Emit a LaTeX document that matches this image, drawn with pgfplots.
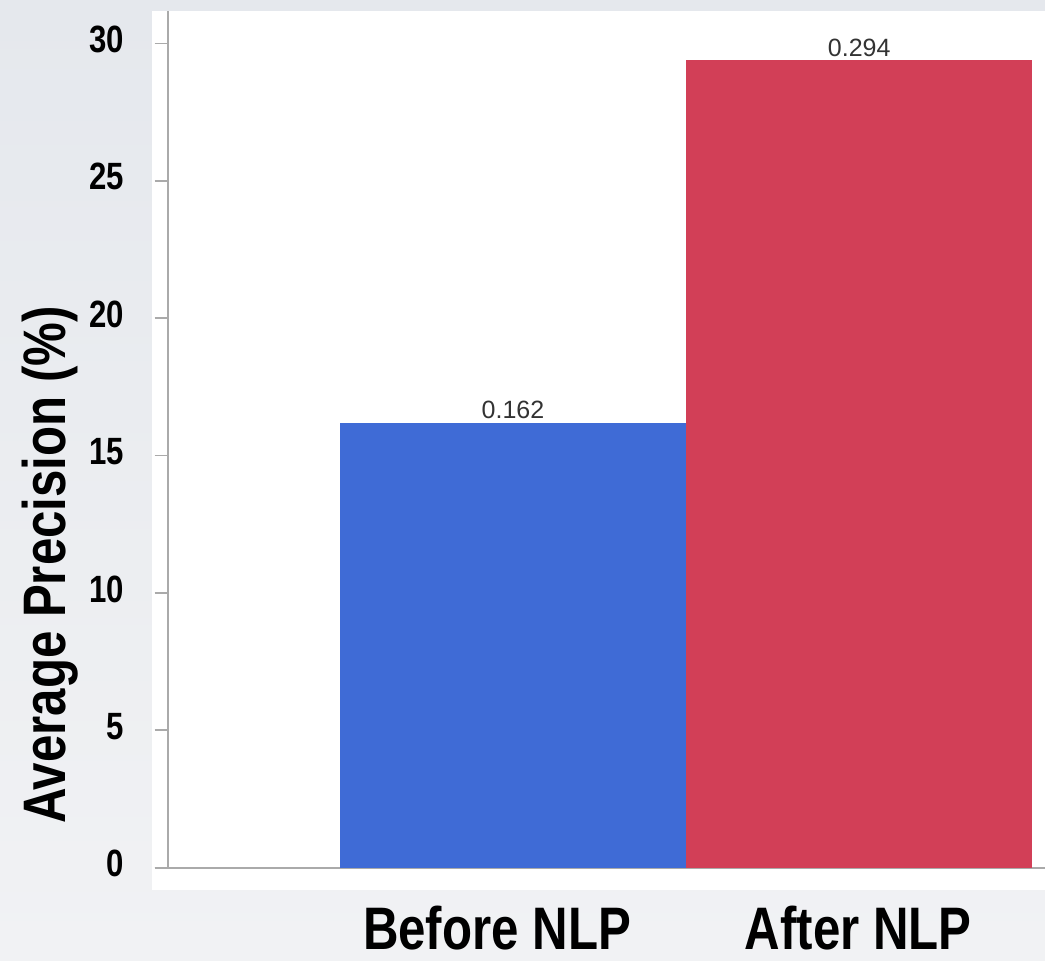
\documentclass[border=0pt]{standalone}
\usepackage{fontspec}
\setmainfont{Liberation Sans}
\newfontfamily\condb[FakeStretch=0.82]{Liberation Sans}
\usepackage{pgfplots}
\pgfplotsset{compat=1.18}
\definecolor{barblue}{RGB}{63,107,214}
\definecolor{barred}{RGB}{210,63,87}
\definecolor{axgray}{RGB}{170,170,170}
\definecolor{bgtop}{RGB}{229,232,237}
\definecolor{bgbot}{RGB}{241,242,244}
\begin{document}
\begin{tikzpicture}
\useasboundingbox (0,0) rectangle (522.5pt,480pt);
\shade[top color=bgtop, bottom color=bgbot] (0,0) rectangle (522.5pt,480pt);
\fill[white] (76pt,35pt) rectangle (522.5pt,474.5pt);
\begin{axis}[
  at={(83.85pt,46.15pt)}, anchor=south west,
  scale only axis, width=438.65pt, height=428.35pt,
  xmin=-0.9974, xmax=1.5367, ymin=0, ymax=31.18,
  axis lines*=left,
  axis line style={axgray, line width=0.9pt},
  x axis line style={shorten <=-6.5pt},
  ytick={0,5,...,30},
  xtick={-0.046,0.997},
  xticklabels={Before NLP,{\rule{0pt}{18.5pt}After NLP}},
  xtick style={draw=none},
  ytick style={axgray, line width=0.9pt},
  tick align=outside,
  major tick length=6.5pt,
  /pgf/number format/assume math mode=true,
  yticklabel style={font=\condb\bfseries\fontsize{19}{20}\selectfont, text=black, anchor=east, inner sep=0pt, xshift=-15pt, yshift=2pt},
  xticklabel style={font=\condb\bfseries\fontsize{30}{32}\selectfont, text=black, anchor=north, inner sep=0pt, yshift=-12.5pt},
  ylabel={Average Precision (\%)},
  every axis y label/.style={at={(axis description cs:-0.1342,0.3533)}, rotate=90, anchor=center, font=\condb\bfseries\fontsize{30}{32}\selectfont},
  every node near coord/.append style={font=\fontsize{12.5}{14}\selectfont, text=black!80, anchor=south, inner sep=0pt, yshift=1.5pt},
]
\addplot[ybar, bar width=1, bar shift=0pt, fill=barblue, draw=none,
  nodes near coords, point meta=explicit symbolic]
  coordinates {(0,16.2) [0.162]};
\addplot[ybar, bar width=1, bar shift=0pt, fill=barred, draw=none,
  nodes near coords, point meta=explicit symbolic]
  coordinates {(1,29.4) [0.294]};
\end{axis}
\end{tikzpicture}
\end{document}
